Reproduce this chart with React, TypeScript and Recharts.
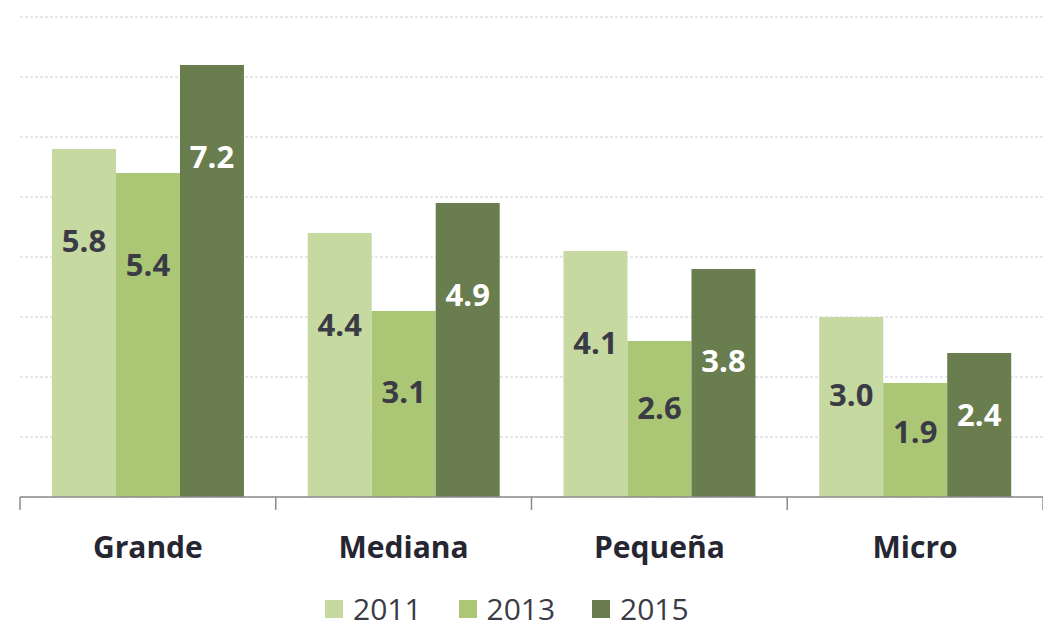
import React from "react"
import { BarChart, Bar, XAxis, YAxis, CartesianGrid, Legend, LabelList } from "recharts"

const categories = ["Grande", "Mediana", "Pequeña", "Micro"]
const values2011 = [5.8, 4.4, 4.1, 3.0]
const values2013 = [5.4, 3.1, 2.6, 1.9]
const values2015 = [7.2, 4.9, 3.8, 2.4]
const yTicks = [0, 1, 2, 3, 4, 5, 6, 7, 8]

const series = [
  { key: "y2011", name: "2011", color: "#c6d9a1", labelColor: "#3b3b45" },
  { key: "y2013", name: "2013", color: "#abc776", labelColor: "#3b3b45" },
  { key: "y2015", name: "2015", color: "#6a7d4e", labelColor: "#ffffff" },
]

const data = categories.map((c, i) => ({
  name: c,
  y2011: values2011[i],
  y2013: values2013[i],
  y2015: values2015[i],
}))

const FONT = "'Open Sans', 'DejaVu Sans', sans-serif"
const PLOT_WIDTH = 1023

function CategoryTick(props: any) {
  const { x, y, payload, index } = props
  const band = PLOT_WIDTH / categories.length
  const left = x - band / 2
  const top = y - 8
  return (
    <g>
      <line x1={left} y1={top} x2={left} y2={top + 13} stroke="#8c8c8c" strokeWidth={1.5} />
      {index === categories.length - 1 && (
        <line x1={left + band} y1={top} x2={left + band} y2={top + 13} stroke="#8c8c8c" strokeWidth={1.5} />
      )}
      <text
        x={x}
        y={top + 53}
        textAnchor="middle"
        dominantBaseline="middle"
        fontFamily={FONT}
        fontWeight={700}
        fontSize={30}
        fill="#262633"
      >
        {payload.value}
      </text>
    </g>
  )
}

function makeLabel(color: string) {
  return (props: any) => {
    const { x, y, width, height, value } = props
    const cy = y + Math.min(height * 0.45, 95)
    return (
      <text
        x={x + width / 2}
        y={cy}
        textAnchor="middle"
        dominantBaseline="middle"
        fontFamily={FONT}
        fontWeight={700}
        fontSize={31}
        fill={color}
      >
        {Number(value).toFixed(1)}
      </text>
    )
  }
}

function LegendContent() {
  return (
    <div
      style={{
        display: "flex",
        alignItems: "flex-start",
        boxSizing: "border-box",
        paddingLeft: 317,
        paddingTop: 10,
        height: 49,
      }}
    >
      {series.map((s) => (
        <div key={s.key} style={{ display: "flex", alignItems: "center", width: 133.5, height: 36 }}>
          <div style={{ width: 18, height: 18, background: s.color, marginRight: 10 }} />
          <span style={{ fontFamily: FONT, fontSize: 30, color: "#3b3b45", lineHeight: "36px" }}>{s.name}</span>
        </div>
      ))}
    </div>
  )
}

export default function App() {
  return (
    <BarChart
      width={1043}
      height={622}
      data={data}
      margin={{ top: 9, right: 8, left: 12, bottom: 0 }}
      barCategoryGap="12.5%"
      barGap={0}
    >
      <CartesianGrid vertical={false} stroke="#cfcfd8" strokeDasharray="3 2" />
      <XAxis
        dataKey="name"
        height={84}
        axisLine={{ stroke: "#8c8c8c", strokeWidth: 1.5 }}
        tickLine={false}
        tick={<CategoryTick />}
        interval={0}
      />
      <YAxis hide domain={[0, 8]} ticks={yTicks} />
      <Legend
        verticalAlign="bottom"
        content={<LegendContent />}
        wrapperStyle={{ left: 0, width: 1043, height: 49, bottom: 0 }}
      />
      {series.map((s) => (
        <Bar key={s.key} dataKey={s.key} name={s.name} fill={s.color} isAnimationActive={false}>
          <LabelList dataKey={s.key} content={makeLabel(s.labelColor)} />
        </Bar>
      ))}
    </BarChart>
  )
}
